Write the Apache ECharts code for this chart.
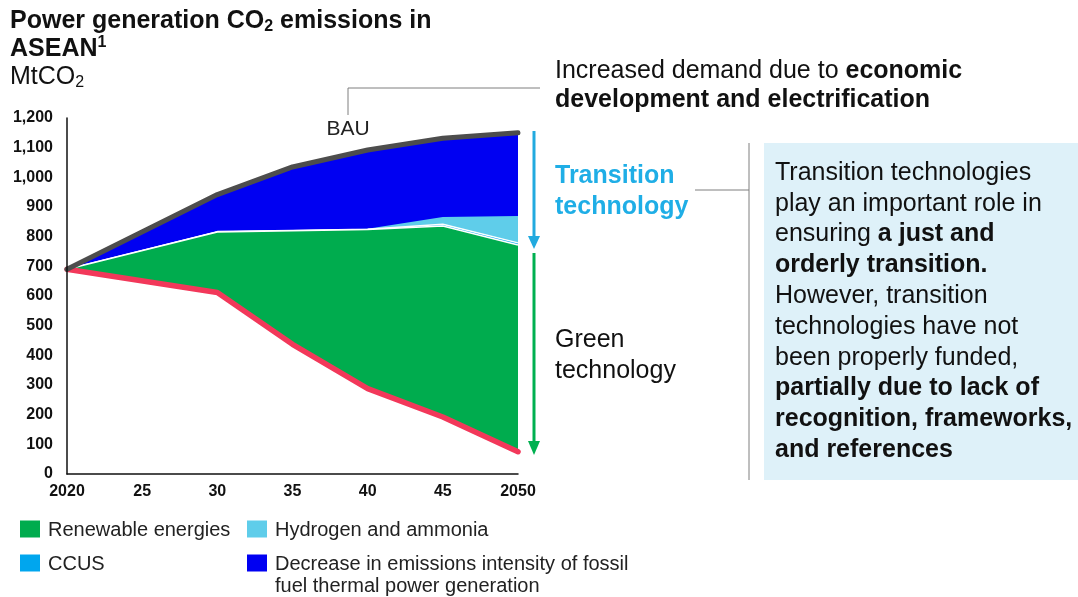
<!DOCTYPE html>
<html>
<head>
<meta charset="utf-8">
<script src="https://cdn.jsdelivr.net/npm/echarts@6/dist/echarts.min.js"></script>
<style>
  html, body { margin: 0; padding: 0; background: #fff; }
  #chart { width: 1078px; height: 597px; }
</style>
</head>
<body>
<div id="chart"></div>
<script>
// x positions (years) and their tick labels
var years = [2020, 2030, 2035, 2040, 2045, 2050];
var xTickLabels = ['2020', '25', '30', '35', '40', '45', '2050'];

// boundaries, MtCO2
var sdsLine     = [690, 612, 437, 288, 192, 75];   // SDS scenario (red)
var renewTop    = [690, 816, 820, 824, 836, 772];  // top of renewable energies
var ccusTop     = [690, 817, 821, 825, 842, 779];  // top of CCUS
var hydrogenTop = [690, 818, 822, 827, 866, 870];  // top of hydrogen and ammonia
var bauLine     = [690, 942, 1035, 1092, 1132, 1150]; // BAU (grey)

var legendNames = ['Renewable energies', 'Hydrogen and ammonia', 'CCUS',
  'Decrease in emissions intensity of fossil\nfuel thermal power generation'];
var legendColors = ['#00AC4E', '#5FCDEA', '#00A6EE', '#0000F2'];

var FONT = '"Liberation Sans", Arial, sans-serif';

function pairs(vals) {
  return vals.map(function (v, i) { return [years[i], v]; });
}

// each wedge is filled from the axis up to its top boundary; the later
// (lower) ones paint over the earlier ones, the white one clears below SDS
function band(name, vals, fill, edge, z) {
  return {
    name: name, type: 'line', data: pairs(vals), z: z,
    showSymbol: false, silent: true,
    areaStyle: { color: fill, opacity: 1 },
    lineStyle: edge ? { color: edge, width: 1.5 } : { width: 0 }
  };
}

var myChart = echarts.init(document.getElementById('chart'));

// legend drawn as small squares + text
var legendPos = [[20, 529], [247, 529], [20, 563], [247, 563]];
var legendGraphics = [];
legendNames.forEach(function (name, i) {
  var p = legendPos[i];
  legendGraphics.push({
    type: 'rect',
    shape: { x: p[0], y: p[1] - 8.5, width: 20, height: 17 },
    style: { fill: legendColors[i] }
  });
  var twoLines = name.indexOf('\n') >= 0;
  legendGraphics.push({
    type: 'text',
    x: p[0] + 28,
    y: twoLines ? p[1] - 10 : p[1] + 1,
    style: {
      text: name,
      fontFamily: FONT,
      fontSize: 20,
      lineHeight: 22,
      fill: '#222',
      verticalAlign: twoLines ? 'top' : 'middle'
    }
  });
});

myChart.setOption({
  animation: false,
  grid: { left: 67, right: 560, top: 118, bottom: 123 },
  xAxis: {
    type: 'value',
    min: 2020,
    max: 2050,
    interval: 5,
    z: 10,
    axisLine: { lineStyle: { color: '#111', width: 1.5 } },
    axisTick: { show: false },
    splitLine: { show: false },
    axisLabel: {
      margin: 10,
      color: '#111',
      fontFamily: FONT,
      fontSize: 16,
      fontWeight: 'bold',
      formatter: function (v) { return xTickLabels[Math.round((v - 2020) / 5)]; }
    }
  },
  yAxis: {
    type: 'value',
    min: 0,
    max: 1200,
    interval: 100,
    z: 10,
    axisLine: { show: true, lineStyle: { color: '#111', width: 1.5 } },
    axisTick: { show: false },
    splitLine: { show: false },
    axisLabel: {
      margin: 14,
      color: '#111',
      fontFamily: FONT,
      fontSize: 16,
      fontWeight: 'bold',
      formatter: function (v) { return v.toLocaleString('en-US'); }
    }
  },
  series: [
    band(legendNames[3], bauLine, legendColors[3], null, 1),
    band(legendNames[1], hydrogenTop, legendColors[1], null, 1.1),
    band(legendNames[2], ccusTop, legendColors[2], '#fff', 1.2),
    band(legendNames[0], renewTop, legendColors[0], '#fff', 1.3),
    band('below SDS', sdsLine, '#fff', null, 1.4),
    {
      name: 'SDS scenario', type: 'line', data: pairs(sdsLine), z: 5,
      showSymbol: false, lineStyle: { color: '#F2385A', width: 5.5, cap: 'round' }
    },
    {
      name: 'BAU', type: 'line', data: pairs(bauLine), z: 5,
      showSymbol: false, lineStyle: { color: '#4D4D4D', width: 5, cap: 'round' }
    }
  ],
  graphic: [
    // title
    {
      type: 'text', x: 10, y: 7,
      style: {
        text: '{b|Power generation CO}{bs|2}{b| emissions in}\n{b|ASEAN}{bp|1}\n{r|MtCO}{rs|2}',
        fontFamily: FONT, fill: '#111',
        rich: {
          b: { fontFamily: FONT, fontSize: 25, fontWeight: 'bold', lineHeight: 28, fill: '#111' },
          bs: { fontFamily: FONT, fontSize: 16, fontWeight: 'bold', lineHeight: 12, verticalAlign: 'bottom', fill: '#111' },
          bp: { fontFamily: FONT, fontSize: 16, fontWeight: 'bold', lineHeight: 20, verticalAlign: 'top', fill: '#111' },
          r: { fontFamily: FONT, fontSize: 25, lineHeight: 28, fill: '#111' },
          rs: { fontFamily: FONT, fontSize: 16, lineHeight: 12, verticalAlign: 'bottom', fill: '#111' }
        }
      }
    },
    // BAU / SDS labels
    {
      type: 'text', x: 348, y: 129,
      style: { text: 'BAU', fontFamily: FONT, fontSize: 21, fill: '#222', align: 'center', verticalAlign: 'middle' }
    },
    {
      type: 'text', x: 263, y: 420,
      style: { text: 'SDS scenario\u00B9', fontFamily: FONT, fontSize: 21, fill: '#222', verticalAlign: 'middle' }
    },
    // connector from BAU to demand note
    {
      type: 'polyline',
      shape: { points: [[348, 115], [348, 88], [540, 88]] },
      style: { stroke: '#7f7f7f', lineWidth: 1, fill: null }
    },
    {
      type: 'text', x: 555, y: 56.5,
      style: {
        text: 'Increased demand due to {b|economic}\n{b|development and electrification}',
        fontFamily: FONT, fontSize: 25, lineHeight: 29, fill: '#111',
        rich: { b: { fontFamily: FONT, fontSize: 25, fontWeight: 'bold', lineHeight: 29, fill: '#111' } }
      }
    },
    // arrows
    {
      type: 'line', shape: { x1: 534, y1: 131, x2: 534, y2: 238 },
      style: { stroke: '#22AADF', lineWidth: 3 }
    },
    {
      type: 'polygon', shape: { points: [[528, 236], [540, 236], [534, 249]] },
      style: { fill: '#22AADF' }
    },
    {
      type: 'line', shape: { x1: 534, y1: 253, x2: 534, y2: 443 },
      style: { stroke: '#00B050', lineWidth: 3 }
    },
    {
      type: 'polygon', shape: { points: [[528, 441], [540, 441], [534, 455]] },
      style: { fill: '#00B050' }
    },
    {
      type: 'text', x: 555, y: 160.5,
      style: {
        text: 'Transition\ntechnology', fontFamily: FONT, fontSize: 25, fontWeight: 'bold',
        lineHeight: 31, fill: '#1FAEE6'
      }
    },
    {
      type: 'text', x: 555, y: 324.5,
      style: {
        text: 'Green\ntechnology', fontFamily: FONT, fontSize: 25,
        lineHeight: 31, fill: '#111'
      }
    },
    // connector to the note box
    {
      type: 'line', shape: { x1: 695, y1: 190, x2: 749, y2: 190 },
      style: { stroke: '#7f7f7f', lineWidth: 1 }
    },
    {
      type: 'line', shape: { x1: 749, y1: 143, x2: 749, y2: 480 },
      style: { stroke: '#7f7f7f', lineWidth: 1 }
    },
    {
      type: 'rect', shape: { x: 764, y: 143, width: 314, height: 337 },
      style: { fill: '#DEF1F9' }
    },
    {
      type: 'text', x: 775, y: 157.6,
      style: {
        text: 'Transition technologies\nplay an important role in\nensuring {b|a just and}\n{b|orderly transition.}\nHowever, transition\ntechnologies have not\nbeen properly funded,\n{b|partially due to lack of}\n{b|recognition, frameworks,}\n{b|and references}',
        fontFamily: FONT, fontSize: 25, lineHeight: 30.8, fill: '#111',
        rich: { b: { fontFamily: FONT, fontSize: 25, fontWeight: 'bold', lineHeight: 30.8, fill: '#111' } }
      }
    }
  ].concat(legendGraphics)
});
</script>
</body>
</html>
